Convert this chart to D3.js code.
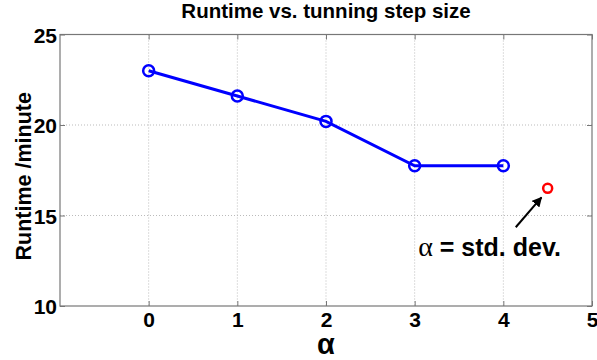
<!DOCTYPE html>
<html>
<head>
<meta charset="utf-8">
<script src="https://cdn.jsdelivr.net/npm/d3@7"></script>
<style>
  body { margin: 0; background: #fff; }
  text { font-family: "Liberation Sans", Arial, sans-serif; }
</style>
</head>
<body>
<div id="chart-container"></div>
<script>
// data
const alphas = [0, 1, 2, 3, 4];
const runtimes = [23.0, 21.6, 20.2, 17.75, 17.75];
const stdDevPoint = [4.5, 16.5];
const xTicks = [0, 1, 2, 3, 4, 5];
const yTicks = [10, 15, 20, 25];
const arrowFrom = [4.14, 14.35];
const arrowTo = [4.43, 16.0];

const margin = { top: 34.5, right: 5, bottom: 54, left: 60 };
const width = 597 - margin.left - margin.right;
const height = 360 - margin.top - margin.bottom;

const svg = d3.select("#chart-container")
    .append("svg")
    .attr("width", 597)
    .attr("height", 360);

const g = svg.append("g")
    .attr("transform", `translate(${margin.left}, ${margin.top})`);

const x = d3.scaleLinear().domain([-1, 5]).range([0, width]);
const y = d3.scaleLinear().domain([10, 25]).range([height, 0]);

// grid
g.selectAll(".vgrid")
    .data(xTicks.filter(d => d < 5))
    .enter().append("line")
    .attr("x1", d => x(d)).attr("x2", d => x(d))
    .attr("y1", 0).attr("y2", height)
    .attr("stroke", "#bbb")
    .attr("stroke-dasharray", "1,2");

g.selectAll(".hgrid")
    .data(yTicks.filter(d => d > 10 && d < 25))
    .enter().append("line")
    .attr("x1", 0).attr("x2", width)
    .attr("y1", d => y(d)).attr("y2", d => y(d))
    .attr("stroke", "#bbb")
    .attr("stroke-dasharray", "1,2");

// axes
const axisStyle = sel => {
    sel.select(".domain").remove();
    sel.selectAll(".tick line").attr("stroke", "#777");
    sel.selectAll(".tick text")
        .attr("font-family", "Liberation Sans, Arial, sans-serif")
        .attr("font-weight", "bold")
        .attr("font-size", 21)
        .attr("fill", "#000");
};

g.append("g")
    .attr("transform", `translate(0, ${height})`)
    .call(d3.axisBottom(x).tickValues(xTicks).tickFormat(d3.format("d")).tickSize(-5).tickPadding(6))
    .call(axisStyle);

g.append("g")
    .call(d3.axisLeft(y).tickValues(yTicks).tickSize(-5).tickPadding(3))
    .call(axisStyle)
    .selectAll(".tick text").attr("dy", "0.36em");

g.append("g")
    .attr("transform", `translate(${width}, 0)`)
    .call(d3.axisRight(y).tickValues(yTicks).tickSize(-5).tickFormat(""))
    .call(axisStyle);

g.append("g")
    .call(d3.axisTop(x).tickValues(xTicks).tickSize(-5).tickFormat(""))
    .call(axisStyle);

// box
g.append("rect")
    .attr("width", width)
    .attr("height", height)
    .attr("fill", "none")
    .attr("stroke", "#777")
    .attr("stroke-width", 1.2);

// line
const pts = alphas.map((a, i) => [a, runtimes[i]]);
g.append("path")
    .datum(pts)
    .attr("fill", "none")
    .attr("stroke", "#0000ff")
    .attr("stroke-width", 3)
    .attr("d", d3.line().x(d => x(d[0])).y(d => y(d[1])));

g.selectAll(".marker")
    .data(pts)
    .enter().append("circle")
    .attr("cx", d => x(d[0]))
    .attr("cy", d => y(d[1]))
    .attr("r", 5.5)
    .attr("fill", "none")
    .attr("stroke", "#0000ff")
    .attr("stroke-width", 2.5);

g.append("circle")
    .attr("cx", x(stdDevPoint[0]))
    .attr("cy", y(stdDevPoint[1]))
    .attr("r", 4.5)
    .attr("fill", "none")
    .attr("stroke", "#ff0000")
    .attr("stroke-width", 2.5);

// arrow
svg.append("defs").append("marker")
    .attr("id", "arrowhead")
    .attr("viewBox", "0 0 10 10")
    .attr("refX", 9).attr("refY", 5)
    .attr("markerWidth", 5).attr("markerHeight", 5)
    .attr("orient", "auto")
    .append("path")
    .attr("d", "M0,0 L10,5 L0,10 z")
    .attr("fill", "#000");

g.append("line")
    .attr("x1", x(arrowFrom[0])).attr("y1", y(arrowFrom[1]))
    .attr("x2", x(arrowTo[0])).attr("y2", y(arrowTo[1]))
    .attr("stroke", "#000")
    .attr("stroke-width", 2)
    .attr("marker-end", "url(#arrowhead)");

const note = g.append("text")
    .attr("x", x(3.04))
    .attr("y", y(12.75))
    .attr("font-size", 25)
    .attr("fill", "#000");
note.append("tspan")
    .attr("font-family", "Liberation Serif, serif")
    .attr("font-size", 28)
    .text("α");
note.append("tspan")
    .attr("font-weight", "bold")
    .text(" = std. dev.");

// title and labels
svg.append("text")
    .attr("x", margin.left + width / 2)
    .attr("y", 18)
    .attr("text-anchor", "middle")
    .attr("font-weight", "bold")
    .attr("font-size", 20.5)
    .text("Runtime vs. tunning step size");

svg.append("text")
    .attr("transform", `translate(31, ${margin.top + height / 2 + 6}) rotate(-90)`)
    .attr("text-anchor", "middle")
    .attr("font-weight", "bold")
    .attr("font-size", 21.5)
    .text("Runtime /minute");

svg.append("text")
    .attr("x", x(2) + margin.left)
    .attr("y", 354)
    .attr("text-anchor", "middle")
    .attr("font-weight", "bold")
    .attr("font-size", 29)
    .text("α");
</script>
</body>
</html>
